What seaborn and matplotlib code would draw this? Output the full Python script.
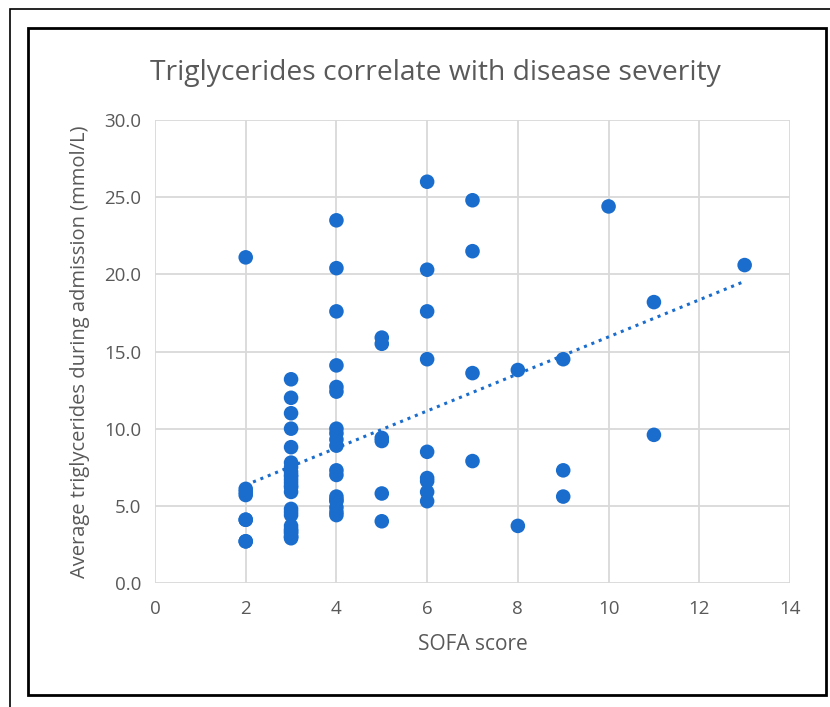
import matplotlib
matplotlib.use("Agg")
import matplotlib.pyplot as plt
import matplotlib.patches as patches
import pandas as pd
import seaborn as sns

# SOFA score and average triglycerides (mmol/L)
# (the low clusters at SOFA 2-4 hold overlapping markers)
sofa_2 = [21.1, 6.1, 5.9, 5.7, 4.1, 4.1, 2.7, 2.7]
sofa_3 = [13.2, 12.0, 11.0, 10.0, 8.8, 7.8, 7.5, 7.2, 7.0, 6.9, 6.7, 6.5, 6.3, 6.2,
          5.9, 4.8, 4.6, 4.4, 3.7, 3.5, 3.4, 3.3, 3.2, 3.0, 3.0, 2.9]
sofa_4 = [23.5, 20.4, 17.6, 14.1, 12.7, 12.4, 10.0, 9.7, 9.3, 8.9, 7.3, 7.0, 5.6, 5.4,
          5.3, 4.9, 4.6, 4.4]
sofa_5 = [15.9, 15.5, 9.4, 9.2, 5.8, 4.0]
sofa_6 = [26.0, 20.3, 17.6, 14.5, 8.5, 6.8, 6.6, 5.9, 5.3]
sofa_7 = [24.8, 21.5, 13.6, 7.9]
sofa_8 = [13.8, 3.7]
sofa_9 = [14.5, 7.3, 5.6]
sofa_10 = [24.4]
sofa_11 = [18.2, 9.6]
sofa_13 = [20.6]

groups = {2: sofa_2, 3: sofa_3, 4: sofa_4, 5: sofa_5, 6: sofa_6, 7: sofa_7,
          8: sofa_8, 9: sofa_9, 10: sofa_10, 11: sofa_11, 13: sofa_13}
rows = [(k, v) for k, vals in groups.items() for v in vals]
df = pd.DataFrame(rows, columns=["SOFA", "TG"])

x_ticks = [0, 2, 4, 6, 8, 10, 12, 14]
y_ticks = [0, 5, 10, 15, 20, 25, 30]

sns.set_style("white")
plt.rcParams["font.family"] = ["Open Sans", "DejaVu Sans"]

blue = "#1a6dcc"
grey = "#595959"

fig = plt.figure(figsize=(8.3, 7.07), dpi=100)
ax = fig.add_axes([155 / 830, 1 - 583 / 707, 635 / 830, 463 / 707])

sns.scatterplot(data=df, x="SOFA", y="TG", ax=ax, color=blue, s=110,
                edgecolor="none", zorder=3)
# linear trendline, as in the original
sns.regplot(data=df, x="SOFA", y="TG", ax=ax, scatter=False, ci=None,
            color=blue, line_kws={"linestyle": (0, (1, 1.6)), "linewidth": 2.2})

ax.set_xlim(0, 14)
ax.set_ylim(0, 30)
ax.set_xticks(x_ticks)
ax.set_yticks(y_ticks)
ax.set_yticklabels([f"{t:.1f}" for t in y_ticks])
ax.grid(True, color="#d9d9d9", linewidth=1.3)
ax.set_axisbelow(True)
for s in ax.spines.values():
    s.set_visible(False)
ax.tick_params(length=0, labelsize=13.5, labelcolor=grey, pad=12)
ax.tick_params(axis="y", pad=10)

ax.set_xlabel("SOFA score", fontsize=15, color=grey, labelpad=12)
ax.set_ylabel("Average triglycerides during admission (mmol/L)", fontsize=14.5,
              color=grey, labelpad=10)
fig.text(435 / 830, 1 - 73 / 707, "Triglycerides correlate with disease severity",
         ha="center", va="center", fontsize=20.3, color=grey)

# frames around the figure
fig.patches.append(patches.Rectangle((10 / 830, -0.01), 830 / 830, 1 - 9 / 707 + 0.01,
                                     transform=fig.transFigure, fill=False,
                                     edgecolor="black", linewidth=1.2))
fig.patches.append(patches.Rectangle((28 / 830, 12 / 707), 798 / 830, 667 / 707,
                                     transform=fig.transFigure, fill=False,
                                     edgecolor="black", linewidth=2))

fig.savefig("out.png", dpi=100)
